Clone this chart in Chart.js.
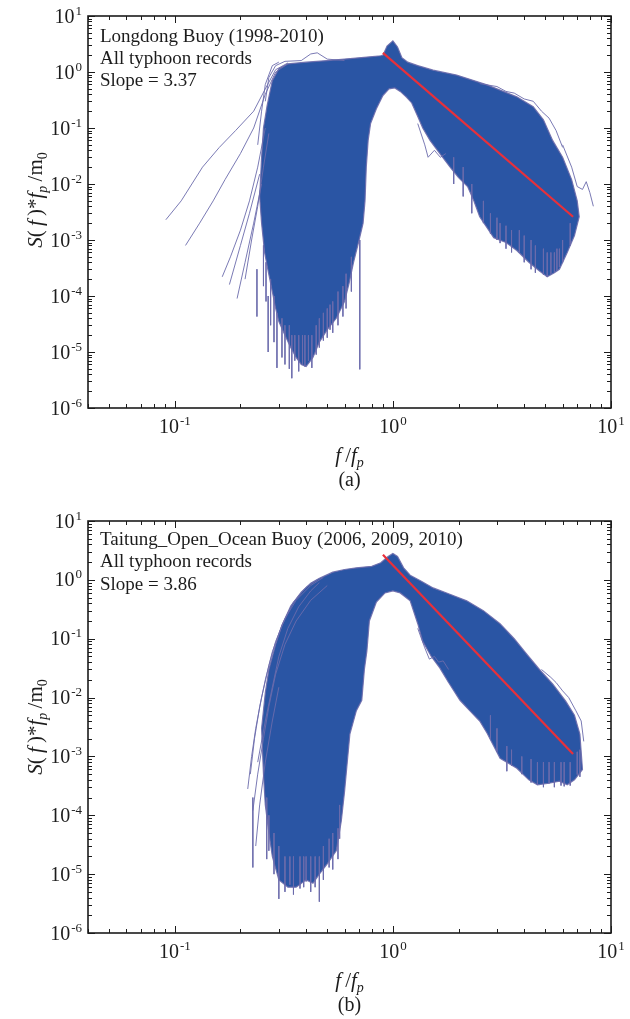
<!DOCTYPE html>
<html><head><meta charset="utf-8">
<script src="https://cdn.jsdelivr.net/npm/chart.js@4.4.1/dist/chart.umd.min.js"></script>
<style>
html,body{margin:0;padding:0;background:#fff;width:630px;height:1019px;overflow:hidden}
.p{position:absolute;left:0;width:630px}
canvas{display:block}
</style></head><body>
<div class="p" style="top:0;height:505px"><canvas id="ca" width="630" height="505"></canvas></div>
<div class="p" style="top:505px;height:514px"><canvas id="cb" width="630" height="514"></canvas></div>
<script>
// ---------- tick labels ----------
const xTickExp = [-1, 0, 1];
const yTickExp = [1, 0, -1, -2, -3, -4, -5, -6];

// ---------- panel (a): Longdong ----------
const annoA = ["Longdong Buoy (1998-2010)", "All typhoon records", "Slope = 3.37"];
const aUpF = [0.245,0.25,0.255,0.265,0.28,0.30,0.33,0.40,0.50,0.60,0.76,0.88,0.9,0.94,1.0,1.05,1.1,1.17,1.3,1.53,1.96,2.7,3.7,4.4,4.9,5.4,6.0,6.6,7.0,7.15];
const aUpS = [0.006,0.03,0.1,0.25,0.7,1.15,1.4,1.5,1.6,1.7,1.85,1.95,2.0,2.9,3.6,2.8,1.8,1.5,1.3,1.08,0.88,0.59,0.36,0.24,0.14,0.06,0.03,0.012,0.005,0.0026];
const aLoF = [0.245,0.25,0.258,0.267,0.28,0.29,0.30,0.32,0.34,0.36,0.38,0.40,0.43,0.46,0.50,0.55,0.60,0.63,0.66,0.70,0.73,0.745,0.755,0.77,0.79,0.84,0.90,0.96,1.02,1.08,1.15,1.22,1.3,1.37,1.48,1.6,1.83,2.0,2.2,2.35,2.5,2.9,3.3,3.7,4.2,4.7,5.1,5.5,5.8,6.3,6.8,7.15];
const aLoS = [0.006,0.002,6e-4,3e-4,1.2e-4,6e-5,3.5e-5,2e-5,1.2e-5,8e-6,6e-6,5.5e-6,8e-6,1.5e-5,2.5e-5,4e-5,8e-5,1.7e-4,4e-4,1e-3,2e-3,5e-3,0.02,0.06,0.12,0.22,0.38,0.5,0.52,0.45,0.36,0.28,0.16,0.1,0.06,0.04,0.02,0.013,0.009,0.005,0.0026,1.1e-3,9e-4,6.5e-4,4e-4,2.8e-4,2.2e-4,2.6e-4,3e-4,6e-4,1.2e-3,0.0026];
const aSpkF = [0.238,0.255,0.262,0.268,0.275,0.285,0.294,0.31,0.32,0.335,0.344,0.355,0.37,0.385,0.395,0.41,0.425,0.445,0.46,0.48,0.5,0.515,0.53,0.56,0.59,0.61,0.645,0.705,1.9,2.1,2.3,2.6,2.8,3.0,3.1,3.3,3.5,3.8,4.0,4.3,4.5,4.9,5.1,5.3,5.5,5.65,5.8,6.0,6.5];
const aSpkTop = [3e-4,8e-4,4e-4,1e-4,2e-4,1e-4,5e-5,4e-5,3e-5,3e-5,2e-5,2e-5,2e-5,2e-5,2e-5,2e-5,2e-5,3e-5,4e-5,5e-5,6e-5,7e-5,8e-5,1.2e-4,1.5e-4,2.5e-4,5e-4,1e-3,0.03,0.02,0.01,5e-3,3e-3,2.5e-3,2e-3,1.8e-3,1.5e-3,1.5e-3,1.2e-3,1e-3,8e-4,7e-4,6e-4,6e-4,6e-4,7e-4,7e-4,1e-3,2e-3];
const aSpkBot = [4.3e-5,1.5e-4,8e-5,1e-5,3e-5,1.5e-5,5.2e-6,8e-6,6e-6,5e-6,3.4e-6,7e-6,4.5e-6,6e-6,5.5e-6,7e-6,5.2e-6,9e-6,1.2e-5,1.6e-5,1.8e-5,2.5e-5,2.2e-5,3e-5,4.3e-5,6e-5,1.2e-4,4.9e-6,0.01,0.006,0.003,2e-3,1.3e-3,1e-3,8.8e-4,7e-4,6e-4,6e-4,4e-4,3e-4,2.6e-4,2.4e-4,2.2e-4,2.5e-4,2.7e-4,2.8e-4,3.3e-4,4e-4,8e-4];
const aOut1F = [0.091,0.107,0.134,0.16,0.19,0.23,0.26,0.29,0.33], aOut1S = [2.3e-3,5e-3,0.02,0.045,0.09,0.2,0.5,1.1,1.45];
const aOut2F = [0.112,0.13,0.15,0.17,0.2,0.23,0.26,0.29,0.33], aOut2S = [8e-4,2e-3,5e-3,0.012,0.035,0.1,0.4,1.0,1.4];
const aOut3F = [0.165,0.18,0.2,0.22,0.24,0.26], aOut3S = [2.2e-4,5e-4,1.5e-3,5e-3,0.02,0.1];
const aOut4F = [0.178,0.2,0.22,0.245], aOut4S = [1.6e-4,8e-4,3e-3,0.015];
const aOut5F = [0.193,0.21,0.23,0.25], aOut5S = [9e-5,4e-4,2e-3,0.01];
const aOut6F = [0.26,0.27,0.29,0.32,0.38,0.42,0.45,0.5,0.6], aOut6S = [0.3,0.8,1.3,1.55,1.6,2.1,2.2,1.7,1.6];
const aOut7F = [6.0,6.6,7.0,7.4,7.7,8.0,8.3], aOut7S = [0.05,0.02,0.009,0.008,0.011,0.007,0.004];
const aOut8F = [1.3,1.4,1.45,1.55,1.65,1.75], aOut8S = [0.12,0.05,0.03,0.04,0.03,0.035];
const aOut9F = [2.5,3.0,3.3,3.6,4.0,4.4,4.8,5.2,5.6,6.0], aOut9S = [0.62,0.55,0.45,0.42,0.33,0.3,0.2,0.15,0.09,0.045];
const aOut10F = [0.24,0.25,0.26,0.28,0.3], aOut10S = [0.05,0.2,0.6,1.3,1.5];
const aOut11F = [0.21,0.225,0.24,0.255,0.27], aOut11S = [2e-4,1e-3,4e-3,0.02,0.08];
const aRedF = [0.9, 6.7], aRedS = [2.2, 2.6e-3];

// ---------- panel (b): Taitung ----------
const annoB = ["Taitung_Open_Ocean Buoy (2006, 2009, 2010)", "All typhoon records", "Slope = 3.86"];
const bUpF = [0.25,0.26,0.27,0.29,0.31,0.34,0.38,0.42,0.46,0.53,0.6,0.68,0.8,0.88,0.95,1.0,1.05,1.12,1.2,1.35,1.53,1.8,2.18,2.6,3.1,3.6,4.1,4.7,5.4,6.2,6.8,7.2,7.4];
const bUpS = [3e-3,0.012,0.03,0.08,0.17,0.36,0.62,0.88,1.06,1.35,1.5,1.6,1.7,1.95,2.5,2.8,2.5,1.6,1.2,0.95,0.73,0.58,0.44,0.3,0.18,0.1,0.055,0.03,0.017,0.0087,0.005,2.4e-3,6e-4];
const bLoF = [0.25,0.255,0.26,0.27,0.28,0.30,0.33,0.36,0.40,0.43,0.46,0.50,0.55,0.58,0.60,0.635,0.68,0.72,0.74,0.76,0.78,0.84,0.92,1.0,1.08,1.2,1.3,1.37,1.5,1.64,1.8,2.03,2.25,2.5,2.7,3.1,3.7,4.2,4.6,5.2,5.8,6.3,6.8,7.4];
const bLoS = [3e-3,5e-4,1.5e-4,5e-5,2e-5,8e-6,6e-6,6e-6,8e-6,7e-6,1e-5,1.5e-5,2.5e-5,8e-5,2.5e-4,2.4e-3,0.006,0.009,0.03,0.062,0.2,0.42,0.6,0.65,0.6,0.44,0.18,0.09,0.05,0.032,0.018,0.009,0.006,0.004,2.5e-3,9.3e-4,6.3e-4,4e-4,3.3e-4,3.5e-4,3.8e-4,3.3e-4,4e-4,6e-4];
const bSpkF = [0.228,0.264,0.27,0.285,0.30,0.32,0.337,0.35,0.375,0.39,0.40,0.42,0.44,0.46,0.48,0.51,0.53,0.56,0.57,2.8,3.0,3.33,3.5,3.9,4.3,4.6,4.9,5.2,5.5,5.9,6.1,6.5,7.0,7.2];
const bSpkTop = [2e-4,2e-4,1e-4,5e-5,3e-5,2e-5,2e-5,2e-5,2e-5,2e-5,2e-5,2e-5,2e-5,2e-5,3e-5,4e-5,5e-5,6e-5,1.5e-4,5e-3,3e-3,1.5e-3,1.3e-3,1e-3,9e-4,8e-4,8e-4,8e-4,8e-4,8e-4,8e-4,8e-4,1.2e-3,1.3e-3];
const bSpkBot = [1.3e-5,1.8e-5,2.5e-5,1e-5,3.8e-6,5e-6,6.6e-6,4.5e-6,5.7e-6,6e-6,7.5e-6,5e-6,6e-6,3.4e-6,8e-6,1.3e-5,1.2e-5,1.8e-5,4e-5,2e-3,1.2e-3,5.6e-4,7e-4,5e-4,3.6e-4,3.3e-4,3e-4,3.5e-4,3e-4,3.2e-4,3.1e-4,3.2e-4,4.9e-4,4.5e-4];
const bOut1F = [0.216,0.225,0.235,0.25,0.27,0.29,0.32,0.36,0.42,0.48], bOut1S = [2.8e-4,1e-3,3e-3,0.01,0.035,0.09,0.22,0.45,0.8,1.1];
const bOut2F = [0.228,0.24,0.255,0.27,0.29,0.32,0.36,0.42,0.5], bOut2S = [1.2e-4,5e-4,2e-3,7e-3,0.025,0.08,0.2,0.45,0.8];
const bOut3F = [0.235,0.245,0.26,0.28,0.3], bOut3S = [3e-5,1.5e-4,8e-4,4e-3,0.015];
const bOut4F = [1.3,1.4,1.47,1.55,1.62,1.7,1.8], bOut4S = [0.15,0.07,0.045,0.05,0.04,0.042,0.03];
const bOut5F = [4.8,5.3,5.6,6.0,6.4,6.9,7.3,7.5], bOut5S = [0.03,0.022,0.018,0.013,0.01,0.006,0.004,0.0018];
const bOut6F = [0.24,0.26,0.28,0.3,0.33,0.37,0.42,0.46], bOut6S = [8e-4,4e-3,0.015,0.05,0.15,0.35,0.65,0.9];
const bOut7F = [0.222,0.232,0.245,0.26,0.28,0.31,0.35,0.4,0.45], bOut7S = [5e-4,2e-3,7e-3,0.02,0.06,0.17,0.42,0.75,1.0];
const bRedF = [0.9, 6.7], bRedS = [2.67, 1.1e-3];

// ---------- helpers ----------
const BLUE = '#2a55a4', LAV = 'rgba(108,108,172,0.9)', RED = '#e8303a', INK = '#1c1c1c';
const SERIF = '"Liberation Serif", "Times New Roman", serif';
function P(fs, ss) { return fs.map((f, i) => ({x: f, y: ss[i]})); }
function poly(uf, us, lf, ls) { return P(uf, us).concat(P(lf, ls).reverse()); }
function spikes(fs, tops, bots) {
  const d = [];
  fs.forEach((f, i) => { d.push({x: f, y: tops[i]}); d.push({x: f, y: bots[i]}); d.push({x: f, y: null}); });
  return d;
}
function line(data, color, w, order) {
  return {data, showLine: true, borderColor: color, borderWidth: w, pointRadius: 0, fill: false, order};
}
function buildSets(up, lo, spk, outs, red) {
  const sets = [];
  sets.push({data: poly(up[0], up[1], lo[0], lo[1]), showLine: true, fill: 'shape',
             backgroundColor: BLUE, borderColor: LAV, borderWidth: 1.2, pointRadius: 0, order: 10});
  sets.push(line(spikes(spk[0], spk[1], spk[2]), LAV, 1, 6));
  outs.forEach(o => sets.push(line(P(o[0], o[1]), LAV, 1, 5)));
  sets.push(line(P(red[0], red[1]), RED, 2.2, 0));
  return sets;
}

function fontFor(p, size) {
  const sub = p[1].includes('sub');
  return (p[1].includes('italic') ? 'italic ' : '') + (sub ? Math.round(size * 0.68) : size) + 'px ' + SERIF;
}
function drawRich(ctx, parts, x, y, size) { // x = center, y = baseline
  let w = 0;
  parts.forEach(p => { ctx.font = fontFor(p, size); w += ctx.measureText(p[0]).width; });
  let cx = x - w / 2;
  ctx.textAlign = 'left'; ctx.textBaseline = 'alphabetic';
  parts.forEach(p => {
    ctx.font = fontFor(p, size);
    ctx.fillText(p[0], cx, y + (p[1].includes('sub') ? 5 : 0));
    cx += ctx.measureText(p[0]).width;
  });
}
function drawPow(ctx, e, x, y, align) {
  ctx.textAlign = 'left'; ctx.textBaseline = 'alphabetic';
  ctx.font = '20px ' + SERIF; const wb = ctx.measureText('10').width;
  const es = String(e);
  ctx.font = '13px ' + SERIF; const we = ctx.measureText(es).width;
  const tot = wb + 1 + we;
  const x0 = align === 'right' ? x - tot : x - tot / 2;
  ctx.font = '20px ' + SERIF; ctx.fillText('10', x0, y);
  ctx.font = '13px ' + SERIF; ctx.fillText(es, x0 + wb + 1, y - 8);
}

const yTitle = [['S', 'italic'], ['(\u2009', ''], ['f', 'italic'], ['\u2009)', ''], ['*', ''], ['f', 'italic'], ['p', 'italic sub'], ['\u2009/', ''], ['m', ''], ['0', 'sub']];
const xTitle = [['f', 'italic'], ['\u2009/', ''], ['f', 'italic'], ['p', 'italic sub']];

function deco(anno, letter, yTitleCenter, annoBase) {
  return {
    id: 'deco',
    afterDraw(chart) {
      const ctx = chart.ctx, xs = chart.scales.x, ys = chart.scales.y, a = chart.chartArea;
      ctx.save();
      ctx.strokeStyle = INK; ctx.fillStyle = INK;
      ctx.lineWidth = 1;
      ctx.beginPath();
      for (let e = -6; e <= 1; e++) {
        for (let m = 1; m <= 9; m++) {
          const v = m * Math.pow(10, e);
          if (v > 10.0001) break;
          const py = Math.round(ys.getPixelForValue(v)) + 0.5;
          const len = m === 1 ? 7 : 4;
          ctx.moveTo(a.left, py); ctx.lineTo(a.left + len, py);
          ctx.moveTo(a.right, py); ctx.lineTo(a.right - len, py);
        }
      }
      for (let e = -2; e <= 1; e++) {
        for (let m = 1; m <= 9; m++) {
          const v = m * Math.pow(10, e);
          if (v < 0.0399 || v > 10.0001) continue;
          const px = Math.round(xs.getPixelForValue(v)) + 0.5;
          const len = m === 1 ? 7 : 4;
          ctx.moveTo(px, a.bottom); ctx.lineTo(px, a.bottom - len);
          ctx.moveTo(px, a.top); ctx.lineTo(px, a.top + len);
        }
      }
      ctx.stroke();
      ctx.lineWidth = 1.6;
      ctx.strokeRect(a.left, a.top, a.right - a.left, a.bottom - a.top);
      yTickExp.forEach(e => drawPow(ctx, e, a.left - 6, ys.getPixelForValue(Math.pow(10, e)) + 6.5, 'right'));
      xTickExp.forEach(e => drawPow(ctx, e, xs.getPixelForValue(Math.pow(10, e)), a.bottom + 25, 'center'));
      const cx = (a.left + a.right) / 2;
      drawRich(ctx, xTitle, cx, a.bottom + 54, 21);
      ctx.font = '20px ' + SERIF; ctx.textAlign = 'center';
      ctx.fillText(letter, cx, a.bottom + 78);
      ctx.save();
      ctx.translate(42, yTitleCenter);
      ctx.rotate(-Math.PI / 2);
      drawRich(ctx, yTitle, 0, 0, 21);
      ctx.restore();
      ctx.font = '19px ' + SERIF; ctx.textAlign = 'left'; ctx.textBaseline = 'alphabetic';
      anno.forEach((t, i) => ctx.fillText(t, 100, annoBase[i]));
      ctx.restore();
    }
  };
}

function makeChart(id, padBottom, sets, plugin) {
  return new Chart(document.getElementById(id), {
    type: 'scatter',
    data: {datasets: sets},
    options: {
      responsive: false, animation: false, devicePixelRatio: 1,
      layout: {padding: {left: 88, right: 19, top: 16, bottom: padBottom}},
      plugins: {legend: {display: false}, tooltip: {enabled: false}},
      elements: {point: {radius: 0}, line: {tension: 0}},
      scales: {
        x: {type: 'logarithmic', min: 0.04, max: 10, display: false},
        y: {type: 'logarithmic', min: 1e-6, max: 10, display: false}
      }
    },
    plugins: [plugin]
  });
}

makeChart('ca', 97,
  buildSets([aUpF, aUpS], [aLoF, aLoS], [aSpkF, aSpkTop, aSpkBot],
    [[aOut1F, aOut1S], [aOut2F, aOut2S], [aOut3F, aOut3S], [aOut4F, aOut4S], [aOut5F, aOut5S],
     [aOut6F, aOut6S], [aOut7F, aOut7S], [aOut8F, aOut8S], [aOut9F, aOut9S], [aOut10F, aOut10S], [aOut11F, aOut11S]], [aRedF, aRedS]),
  deco(annoA, '(a)', 200, [42, 64, 86]));

makeChart('cb', 86,
  buildSets([bUpF, bUpS], [bLoF, bLoS], [bSpkF, bSpkTop, bSpkBot],
    [[bOut1F, bOut1S], [bOut2F, bOut2S], [bOut3F, bOut3S], [bOut4F, bOut4S], [bOut5F, bOut5S], [bOut6F, bOut6S], [bOut7F, bOut7S]], [bRedF, bRedS]),
  deco(annoB, '(b)', 222, [40, 62, 85]));
</script>
</body></html>
